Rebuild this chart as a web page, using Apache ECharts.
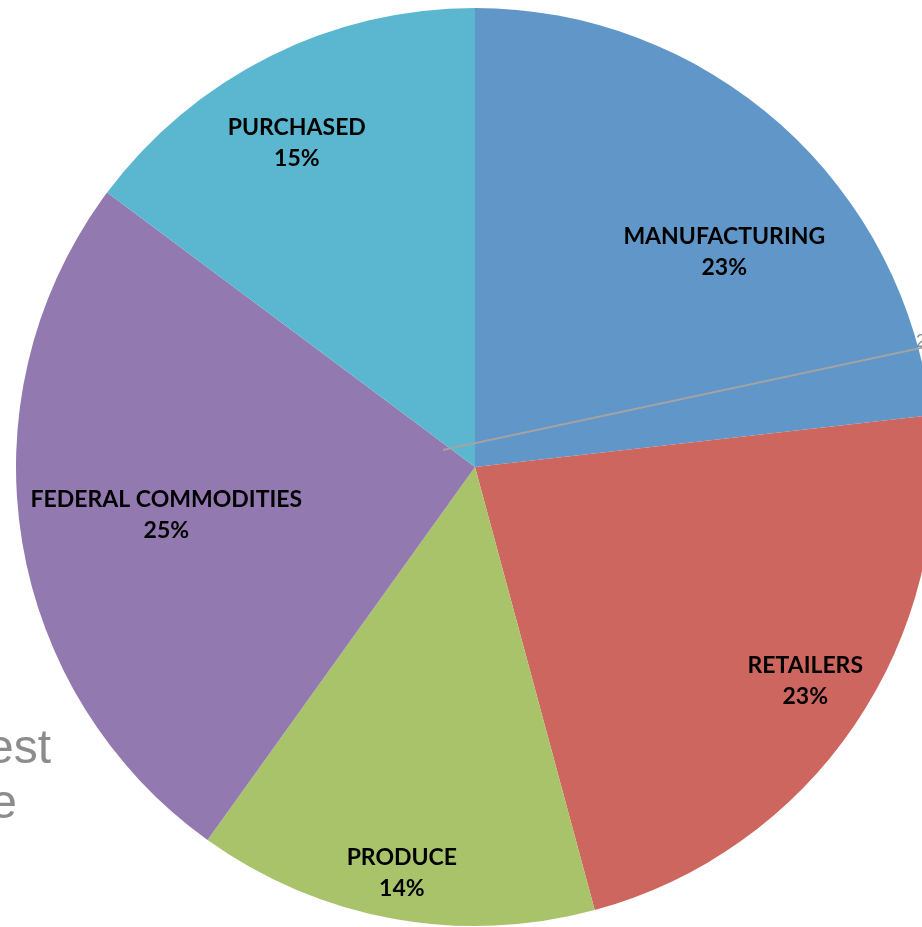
<!DOCTYPE html>
<html>
<head>
<meta charset="utf-8">
<script src="https://cdn.jsdelivr.net/npm/echarts@6/dist/echarts.min.js"></script>
<style>html,body{margin:0;padding:0;background:#fff;}#c{width:922px;height:927px;}</style>
</head>
<body>
<div id="c"></div>
<script>
var categories = ['MANUFACTURING', 'RETAILERS', 'PRODUCE', 'FEDERAL COMMODITIES', 'PURCHASED'];
var values = [23.2, 22.6, 14.1, 25.3, 14.8];
var colors = ['#6096C8', '#CD665F', '#A9C36B', '#9279B0', '#5BB7CF'];
// label placement (style): radial ratio and angle tweak (deg, clockwise)
var labelRatio = [0.72, 0.855, 0.895, 0.68, 0.81];
var labelAngleTweak = [7.2, -1.5, 0, 0.3, -2];

var CX = 475, CY = 467, R = 459;
var chart = echarts.init(document.getElementById('c'), null, {renderer: 'canvas'});
var option = {
  animation: false,
  backgroundColor: '#ffffff',
  graphic: [
    {type: 'text', right: 871, top: 726, style: {text: 'est', font: '48px "Liberation Sans", Arial', fill: '#8c8c8c'}},
    {type: 'text', right: 905, top: 781, style: {text: 'e', font: '48px "Liberation Sans", Arial', fill: '#8c8c8c'}},
    {type: 'text', left: 916, top: 333, style: {text: '2', font: '18px "Liberation Sans", Arial', fill: '#8c8c8c'}},
    {type: 'line', z: 100, shape: {x1: 443, y1: 450, x2: 930, y2: 346}, style: {stroke: '#a3a3a3', lineWidth: 2}}
  ],
  series: [{
    type: 'pie',
    center: [CX, CY],
    radius: [0, R],
    startAngle: 90,
    clockwise: true,
    avoidLabelOverlap: false,
    data: categories.map(function (c, i) {
      return {name: c, value: values[i], itemStyle: {color: colors[i]}};
    }),
    itemStyle: {borderWidth: 0},
    label: {
      show: true,
      position: 'inside',
      formatter: function (p) { return p.name + '\n' + Math.round(p.percent) + '%'; },
      fontFamily: 'Lato, "Open Sans", sans-serif',
      fontWeight: 'bold',
      fontSize: 23,
      lineHeight: 31,
      color: '#000000',
      align: 'center'
    },
    labelLine: {show: false},
    labelLayout: function (p) {
      var i = p.dataIndex;
      var lr = p.labelRect;
      var lx = lr.x + lr.width / 2, ly = lr.y + lr.height / 2;
      var ang = Math.atan2(lx - CX, -(ly - CY)); // clockwise from 12 o'clock
      ang += labelAngleTweak[i] * Math.PI / 180;
      var d = labelRatio[i] * R;
      var tx = CX + d * Math.sin(ang), ty = CY - d * Math.cos(ang) + 2;
      return {dx: tx - lx, dy: ty - ly};
    }
  }]
};
chart.setOption(option);
</script>
</body>
</html>
